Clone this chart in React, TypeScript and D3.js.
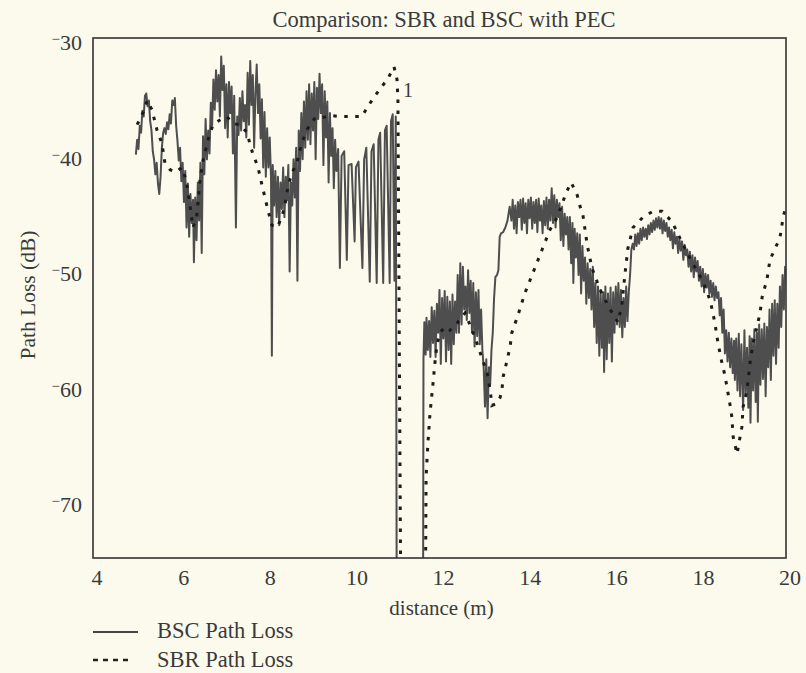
import React from "react";
import * as d3 from "d3";

const xTicks = [4, 6, 8, 10, 12, 14, 16, 18, 20];
const yTicks = [-30, -40, -50, -60, -70];

// BSC Path Loss (solid), [distance m, dB]
const bscD = [
  4.99,5.02,5.05,5.08,5.11,5.14,5.17,5.20,5.23,5.26,5.29,5.32,5.35,5.38,5.41,5.44,5.47,5.50,5.53,5.56,5.59,5.62,5.65,5.68,5.71,5.74,5.77,5.80,5.83,5.86,5.89,5.92,5.95,5.98,6.01,6.04,6.07,6.10,6.13,6.16,6.19,6.22,6.25,6.28,6.31,6.33,6.36,6.39,6.42,6.45,6.48,6.51,6.54,6.57,6.60,6.63,6.66,6.69,6.72,6.75,6.78,6.81,6.84,6.87,6.90,6.93,6.96,6.99,7.02,7.05,7.08,7.11,7.14,7.17,7.20,7.23,7.26,7.30,7.33,7.36,7.39,7.42,7.45,7.48,7.51,7.54,7.57,7.60,7.63,7.66,7.69,7.72,7.75,7.78,7.81,7.84,7.87,7.90,7.93,7.96,7.99,8.02,8.05,8.08,8.11,8.13,8.15,8.18,8.21,8.24,8.27,8.30,8.33,8.36,8.39,8.42,8.45,8.48,8.51,8.54,8.57,8.60,8.63,8.66,8.69,8.72,8.75,8.78,8.81,8.84,8.87,8.90,8.93,8.96,8.99,9.02,9.05,9.08,9.11,9.14,9.17,9.20,9.23,9.26,9.29,9.32,9.35,9.38,9.41,9.44,9.47,9.50,9.53,9.56,9.59,9.62,
  9.66,9.70,9.74,9.80,9.86,9.90,9.97,10.04,10.07,10.13,10.22,10.26,10.31,10.39,10.43,10.48,10.55,10.59,10.63,10.70,10.74,10.78,10.85,10.88,10.92,10.96,10.99,11.01,11.02,
  11.60,11.62,11.63,11.65,11.68,11.70,11.73,11.76,11.79,11.82,11.85,11.88,11.91,11.94,11.97,12.00,12.03,12.06,12.09,12.12,12.15,12.18,12.21,12.24,12.27,12.30,12.33,12.36,12.39,12.42,12.45,12.48,12.51,12.54,12.57,12.60,12.63,12.66,12.69,12.72,12.75,12.78,12.81,12.84,12.87,12.90,12.93,12.96,12.99,13.02,13.05,13.08,13.11,13.14,13.17,13.20,13.23,13.26,13.29,13.33,13.36,13.39,13.42,13.47,13.52,13.57,13.62,
  13.66,13.69,13.72,13.75,13.78,13.81,13.84,13.87,13.90,13.93,13.96,13.99,14.02,14.05,14.08,14.11,14.14,14.17,14.20,14.23,14.26,14.29,14.32,14.35,14.38,14.41,14.44,14.47,14.50,14.53,14.56,14.59,14.62,14.65,14.68,14.71,14.74,14.77,14.80,14.83,14.86,14.89,14.92,14.95,14.98,15.01,15.04,15.07,15.09,15.12,15.15,15.18,15.21,15.24,15.27,15.30,15.33,15.36,15.39,15.42,15.45,15.48,15.51,15.54,15.57,15.60,15.63,15.66,15.69,15.72,15.75,15.78,15.80,15.83,15.86,15.89,15.92,15.95,15.98,16.01,16.04,16.07,16.10,16.13,16.16,16.19,16.22,16.25,16.28,16.31,16.34,16.37,16.40,16.43,16.46,16.49,16.52,16.55,16.58,16.61,16.64,16.67,16.70,16.73,16.76,16.79,16.82,16.85,16.88,16.91,16.94,16.97,17.00,17.03,17.06,17.09,17.12,17.15,17.18,17.21,17.24,17.27,17.30,17.33,17.36,17.39,17.42,17.45,17.48,17.51,17.54,17.57,17.60,17.63,17.66,17.69,17.72,17.75,17.78,17.81,17.84,17.87,17.90,17.93,17.96,17.99,18.02,18.05,18.08,18.11,18.14,18.17,18.20,18.23,18.26,18.29,18.32,18.35,18.38,18.41,18.44,18.47,18.50,18.53,18.56,18.59,18.62,18.65,18.68,18.71,18.74,18.77,18.80,18.82,18.85,18.88,18.91,18.94,18.97,19.01,19.04,19.07,19.10,19.13,19.16,19.18,19.21,19.24,19.27,19.30,19.33,19.35,19.38,19.41,19.44,19.47,19.50,19.53,19.56,19.59,19.62,19.65,19.68,19.71,19.74,19.77,19.80,19.83,19.86,19.89,19.92,19.95,19.98,20.0
];
const bscV = [
  -40.1,-38.8,-39.6,-37.6,-38.2,-36.3,-36.8,-35.0,-34.8,-35.9,-35.4,-37.2,-38.0,-39.8,-40.5,-41.8,-40.8,-42.6,-43.5,-42.0,-39.5,-38.2,-37.8,-38.3,-37.3,-37.9,-36.6,-37.4,-35.4,-35.8,-35.2,-37.6,-38.9,-40.6,-39.5,-42.4,-40.8,-44.2,-41.5,-46.4,-42.6,-47.2,-43.5,-46.0,-44.0,-49.4,-43.8,-47.5,-42.5,-45.8,-40.8,-48.6,-38.5,-41.8,-37.0,-40.5,-38.0,-40.0,-35.6,-37.6,-33.6,-36.2,-32.8,-35.5,-33.2,-36.8,-31.6,-34.5,-32.4,-37.8,-34.0,-38.6,-33.8,-36.5,-34.2,-40.0,-35.0,-46.4,-36.8,-38.4,-35.2,-38.0,-34.6,-37.2,-35.8,-38.6,-33.0,-37.5,-32.0,-35.8,-33.2,-39.5,-34.8,-32.3,-36.5,-34.0,-38.7,-35.3,-41.2,-36.4,-42.0,-37.8,-41.2,-38.6,-42.1,-57.5,-41.0,-44.5,-41.5,-45.5,-42.0,-46.2,-42.5,-44.8,-41.2,-45.5,-42.0,-44.0,-41.0,-50.2,-42.5,-44.5,-40.5,-43.8,-39.5,-51.0,-38.0,-41.5,-36.5,-40.5,-35.5,-39.5,-34.6,-38.8,-34.0,-39.2,-34.8,-38.0,-33.8,-40.5,-34.3,-37.0,-33.1,-36.5,-34.0,-41.0,-34.6,-38.6,-35.5,-42.5,-36.5,-40.2,-37.8,-43.0,-38.8,-41.5,
  -39.6,-49.9,-40.2,-39.8,-49.2,-41.0,-40.9,-47.6,-41.2,-40.7,-49.9,-40.5,-39.5,-51.1,-39.8,-39.2,-51.2,-38.8,-38.2,-51.2,-38.0,-37.6,-51.2,-37.2,-36.6,-51.0,-36.8,-75.0,-80.0,
  -80.0,-80.0,-57.8,-54.6,-57.4,-54.2,-57.0,-54.5,-57.6,-53.3,-56.4,-53.6,-57.6,-53.0,-55.5,-51.8,-58.2,-52.5,-56.0,-51.9,-58.0,-52.4,-57.0,-52.8,-58.2,-52.2,-56.5,-52.8,-55.5,-50.5,-55.5,-49.5,-54.8,-49.8,-53.5,-51.5,-54.4,-50.1,-53.8,-51.0,-55.5,-51.2,-56.7,-52.0,-55.8,-51.8,-56.5,-53.5,-57.0,-58.5,-61.9,-57.8,-62.9,-58.5,-60.0,-57.0,-55.5,-52.5,-50.7,-50.5,-50.1,-47.2,-46.9,-46.8,-46.4,-45.8,-44.6,
  -45.8,-44.0,-46.5,-44.5,-46.9,-44.2,-45.5,-44.0,-46.6,-43.9,-46.0,-44.3,-46.9,-44.0,-45.6,-43.8,-46.5,-44.2,-46.0,-44.0,-46.8,-43.9,-45.8,-44.5,-46.9,-44.1,-46.2,-43.8,-46.5,-44.0,-45.8,-43.0,-46.0,-43.6,-46.4,-44.0,-45.5,-44.3,-47.5,-44.6,-48.0,-45.2,-47.0,-45.5,-48.3,-45.5,-49.5,-46.0,-51.2,-46.5,-49.0,-46.9,-50.5,-47.0,-52.1,-48.0,-51.0,-49.0,-53.0,-49.5,-52.5,-50.0,-53.5,-49.8,-55.0,-51.2,-56.4,-51.5,-57.5,-51.8,-56.8,-52.0,-58.9,-51.5,-57.8,-52.1,-56.4,-51.6,-58.0,-52.0,-55.5,-51.5,-54.8,-51.2,-55.0,-51.8,-55.9,-52.5,-55.0,-51.5,-54.5,-52.0,-50.5,-48.3,-47.8,-48.3,-47.0,-48.0,-46.9,-47.8,-46.5,-47.5,-46.4,-47.2,-46.5,-47.4,-46.2,-47.0,-46.0,-46.8,-45.8,-46.6,-45.6,-46.4,-45.5,-46.5,-45.6,-46.9,-45.8,-46.7,-46.0,-47.2,-46.4,-47.5,-46.6,-48.2,-46.8,-47.8,-47.2,-48.6,-47.4,-48.4,-47.6,-49.2,-47.9,-48.8,-48.3,-49.8,-48.5,-50.2,-48.8,-50.7,-49.0,-50.2,-49.3,-51.0,-49.8,-51.5,-50.0,-52.0,-50.4,-51.6,-50.5,-52.1,-51.0,-52.4,-51.2,-52.7,-51.5,-52.5,-52.0,-54.0,-52.5,-55.5,-53.5,-57.3,-55.3,-58.0,-55.5,-58.5,-56.0,-59.0,-56.2,-59.6,-56.0,-60.5,-55.6,-61.0,-56.5,-62.2,-55.3,-61.0,-56.8,-62.0,-55.8,-63.3,-56.0,-60.5,-55.2,-61.5,-55.5,-63.2,-54.8,-60.0,-55.2,-59.5,-54.7,-61.0,-55.0,-58.5,-53.5,-59.6,-53.0,-57.5,-52.7,-58.2,-53.0,-56.8,-51.5,-55.0,-50.5,-53.5,-49.8,-50.5
];

// SBR Path Loss (dotted)
const sbrD = [
  5.02,5.15,5.25,5.36,5.48,5.59,5.66,5.78,5.92,6.05,6.15,6.24,6.31,6.40,6.47,6.54,6.66,6.77,6.93,7.09,7.23,7.39,7.56,7.63,7.69,7.81,7.90,7.97,8.04,8.13,8.25,8.36,8.43,8.50,8.59,8.71,8.78,8.85,8.96,9.13,9.29,9.47,9.70,9.93,10.21,10.35,10.51,10.67,10.81,10.95,11.02,11.04,11.10,11.12,
  11.66,11.68,11.69,11.73,11.78,11.85,11.90,11.94,12.01,12.13,12.24,12.40,12.59,12.70,12.82,12.89,13.00,13.10,13.17,13.21,13.33,13.40,13.44,13.47,13.56,13.63,13.67,13.81,13.97,14.16,14.37,14.55,14.69,14.81,14.92,15.04,15.18,15.24,15.31,15.36,15.41,15.52,15.71,15.94,16.12,16.21,16.28,16.35,16.47,16.70,16.93,17.14,17.37,17.60,17.83,18.06,18.25,18.36,18.43,18.52,18.59,18.66,18.71,18.75,18.78,18.87,18.94,18.98,19.01,19.10,19.17,19.24,19.33,19.40,19.45,19.56,19.63,19.75,19.86,19.93,20.0
];
const sbrV = [
  -37.5,-36.5,-35.4,-36.2,-38.0,-39.1,-40.8,-41.4,-41.6,-41.2,-42.3,-44.5,-46.4,-45.3,-42.3,-40.6,-38.8,-37.5,-37.1,-36.8,-37.4,-37.5,-38.2,-39.3,-40.0,-41.2,-42.7,-43.8,-44.9,-46.2,-46.4,-45.5,-44.5,-42.9,-41.7,-40.8,-39.7,-38.8,-37.8,-36.9,-36.9,-36.7,-36.8,-36.8,-36.8,-35.9,-35.0,-34.2,-33.5,-32.5,-33.6,-35.4,-75.0,-80.0,
  -80.0,-75.0,-68.0,-65.2,-62.5,-59.9,-57.9,-56.6,-55.5,-55.0,-55.3,-54.7,-53.8,-54.8,-55.9,-56.7,-57.9,-59.0,-60.5,-61.8,-61.6,-61.1,-60.5,-59.3,-57.9,-56.7,-55.5,-54.0,-52.1,-50.3,-48.3,-46.6,-45.7,-44.6,-43.4,-42.5,-43.6,-44.5,-45.3,-46.6,-47.9,-49.9,-51.8,-53.5,-54.6,-53.1,-50.5,-48.2,-46.4,-45.5,-45.0,-45.0,-45.9,-47.7,-49.4,-50.9,-52.7,-54.7,-56.4,-58.1,-59.2,-60.7,-61.8,-62.8,-64.5,-66.0,-64.5,-63.7,-61.9,-60.5,-58.1,-56.4,-55.0,-53.8,-52.4,-50.9,-49.2,-48.2,-47.3,-45.6,-44.5
];

const W = 806, H = 673;
const L = 93, R = 786, T = 38, B = 558;

export default function App() {
  const x = d3.scaleLinear().domain([4, 20]).range([L, R]);
  const y = d3.scaleLinear().domain([-75, -30]).range([B, T]);
  const line = d3.line<[number, number]>().x(d => x(d[0])).y(d => y(d[1]));
  const bsc = bscD.map((d, i) => [d, bscV[i]] as [number, number]);
  const sbr = sbrD.map((d, i) => [d, sbrV[i]] as [number, number]);
  const font = "'Liberation Serif', 'Times New Roman', serif";
  const txt = "#3a3a3a";
  return (
    <svg width={W} height={H} style={{ position: "absolute", left: 0, top: 0, background: "#fbfaec" }} fontFamily={font}>
      <rect x={0} y={0} width={W} height={H} fill="#fbfaec" />
      <defs>
        <clipPath id="plotclip">
          <rect x={L} y={T} width={R - L} height={B - T} />
        </clipPath>
      </defs>
      <text x={444} y={27} textAnchor="middle" fontSize={22.5} fill={txt}>Comparison: SBR and BSC with PEC</text>
      <g clipPath="url(#plotclip)">
        <path d={line(bsc) || ""} fill="none" stroke="#4e4e4e" strokeWidth={2} strokeLinejoin="round" />
        <path d={line(sbr) || ""} fill="none" stroke="#1c1c1c" strokeWidth={3} strokeDasharray="3.5 7.5" />
      </g>
      <rect x={L} y={T} width={R - L} height={B - T} fill="none" stroke="#333" strokeWidth={1.6} />
      <text x={408} y={97} textAnchor="middle" fontSize={20} fill={txt}>1</text>
      {xTicks.map(t => (
        <text key={t} x={x(t) + 4} y={585} textAnchor="middle" fontSize={22} fill={txt}>{t}</text>
      ))}
      {yTicks.map(t => (
        <text key={t} x={82} y={y(t) + 12} textAnchor="end" fontSize={22} fill={txt}>
          <tspan fontSize={15} dy={-6}>−</tspan>
          <tspan dy={6}>{Math.abs(t)}</tspan>
        </text>
      ))}
      <text x={441.5} y={615} textAnchor="middle" fontSize={21} fill={txt}>distance (m)</text>
      <text transform={`translate(35, ${(T + B) / 2 - 3}) rotate(-90)`} textAnchor="middle" fontSize={21.5} fill={txt}>Path Loss (dB)</text>
      <line x1={93} x2={138} y1={632} y2={632} stroke="#444" strokeWidth={2} />
      <text x={157} y={638} fontSize={22.5} fill={txt}>BSC Path Loss</text>
      <line x1={93} x2={130} y1={660} y2={660} stroke="#222" strokeWidth={2.5} strokeDasharray="5 5" />
      <text x={157} y={667} fontSize={22.5} fill={txt}>SBR Path Loss</text>
    </svg>
  );
}
